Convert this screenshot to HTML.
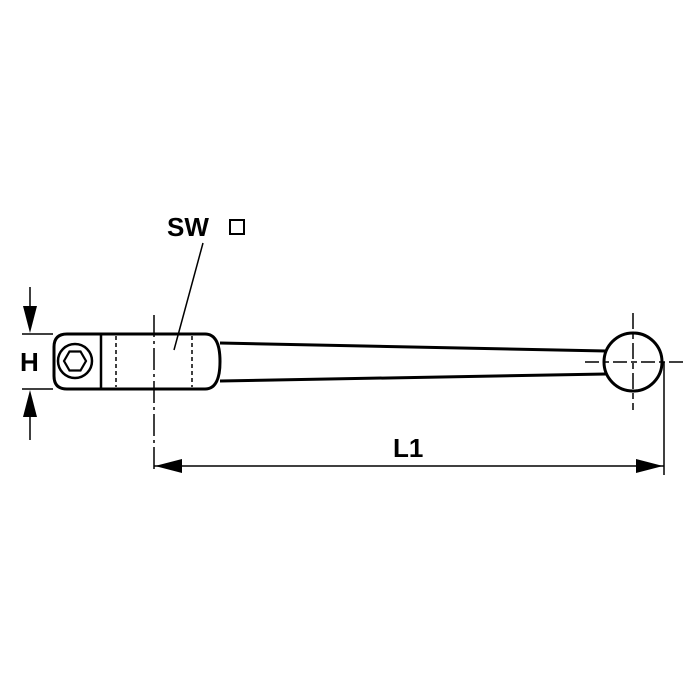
<!DOCTYPE html>
<html><head><style>body{margin:0;background:#fff}svg{display:block}</style></head><body>
<svg width="700" height="700" viewBox="0 0 700 700" xmlns="http://www.w3.org/2000/svg">
<rect width="700" height="700" fill="#fff"/>
<g fill="none" stroke="#000">
<path d="M67,334 L205,334 Q220,334 220,361.5 Q220,389 205,389 L67,389 Q54,389 54,376 L54,347 Q54,334 67,334 Z" stroke-width="3"/>
<line x1="101" y1="334" x2="101" y2="389" stroke-width="2.5"/>
<line x1="116" y1="336" x2="116" y2="387" stroke-width="1.5" stroke-dasharray="4,3"/>
<line x1="192" y1="336" x2="192" y2="387" stroke-width="1.5" stroke-dasharray="4,3"/>
<circle cx="75" cy="361" r="17" stroke-width="2.5"/>
<polygon points="64,361 69.5,351.5 80.5,351.5 86,361 80.5,370.5 69.5,370.5" stroke-width="2.2"/>
<line x1="220" y1="343" x2="606" y2="351" stroke-width="3"/>
<line x1="220" y1="381" x2="606" y2="374" stroke-width="3"/>
<circle cx="633" cy="362" r="29" fill="#fff" stroke-width="3"/>
<line x1="154" y1="315" x2="154" y2="470" stroke-width="1.5" stroke-dasharray="22,4,3,4"/>
<line x1="633" y1="313" x2="633" y2="410" stroke-width="1.5" stroke-dasharray="16,4,6,4"/>
<line x1="585" y1="362" x2="683" y2="362" stroke-width="1.5" stroke-dasharray="14,4,6,4"/>
<line x1="664" y1="362" x2="664" y2="475" stroke-width="1.5"/>
<line x1="154" y1="466" x2="664" y2="466" stroke-width="1.5"/>
<line x1="22" y1="334" x2="53" y2="334" stroke-width="1.5"/>
<line x1="22" y1="389" x2="53" y2="389" stroke-width="1.5"/>
<line x1="30" y1="287" x2="30" y2="315" stroke-width="1.5"/>
<line x1="30" y1="408" x2="30" y2="440" stroke-width="1.5"/>
<line x1="203" y1="243" x2="174" y2="350" stroke-width="1.5"/>
<rect x="230" y="220" width="14" height="14" stroke-width="2"/>
</g>
<g fill="#000">
<polygon points="155,466 182,459 182,473"/>
<polygon points="663,466 636,459 636,473"/>
<polygon points="30,333 23,306 37,306"/>
<polygon points="30,390 23,417 37,417"/>
</g>
<g font-family="Liberation Sans, sans-serif" font-weight="bold" font-size="26" fill="#000">
<text x="167" y="236">SW</text>
<text x="20" y="371">H</text>
<text x="393" y="457">L1</text>
</g>
</svg>
</body></html>
